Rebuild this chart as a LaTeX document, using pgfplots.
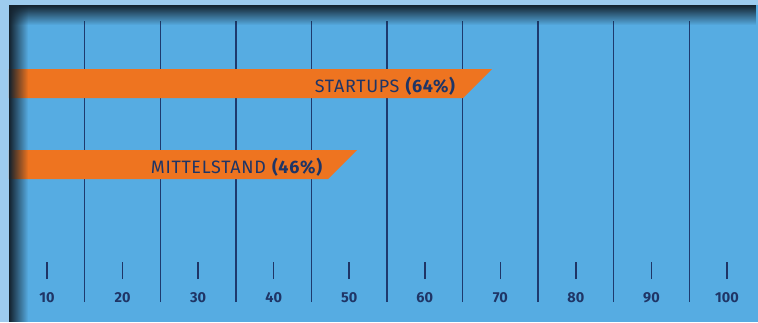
\documentclass[border=0pt]{standalone}
\usepackage{pgfplots}
\pgfplotsset{compat=1.18}
\usepackage{fontspec}
\setmainfont{Fira Sans}
\newfontfamily\spaced[LetterSpace=4]{Fira Sans}
\usetikzlibrary{fadings}
\definecolor{bg}{HTML}{56ACE2}
\definecolor{outer}{HTML}{9DCBEE}
\definecolor{navy}{HTML}{1F3566}
\definecolor{gridc}{HTML}{1E3A6E}
\definecolor{orng}{HTML}{EE7420}
\definecolor{shadowc}{HTML}{14222E}
\tikzfading[name=fadetop, top color=transparent!0, middle color=transparent!65, bottom color=transparent!100]
\tikzfading[name=fadeleft, left color=transparent!0, right color=transparent!100]
\begin{document}
\begin{tikzpicture}
\fill[outer] (0,0) rectangle (758bp,322bp);
\fill[bg] (9bp,0) rectangle (758bp,317bp);
\begin{axis}[
  at={(0,0)}, anchor=south west,
  width=758bp, height=322bp, scale only axis,
  xmin=3.7801, xmax=104.1032, ymin=0, ymax=322,
  axis line style={draw=none},
  major tick length=0pt,
  ytick=\empty,
  xtick={10,20,30,40,50,60,70,80,90,100},
  xticklabel style={anchor=base, yshift=20bp, text=navy, font=\fontsize{14.5}{15}\selectfont\bfseries},
  /pgf/number format/assume math mode=true,
  clip=false,
]
\pgfplotsinvokeforeach{15,25,35,45,55,65,75,85,95}{
  \addplot[gridc, line width=1.3bp] coordinates {(#1,20) (#1,301)};
}
\pgfplotsinvokeforeach{10,20,30,40,50,60,70,80,90,100}{
  \addplot[navy, line width=1.6bp] coordinates {(#1,43) (#1,60)};
}
% STARTUPS bar
\addplot[fill=orng, draw=none] coordinates {(4.97,253) (68.90,253) (65.06,224) (4.97,224)} -- cycle;
% MITTELSTAND bar
\addplot[fill=orng, draw=none] coordinates {(4.97,172) (51.03,172) (47.19,143) (4.97,143)} -- cycle;
\node[anchor=base east, inner sep=0pt, text=navy, font=\spaced\fontsize{18}{18}\selectfont] at (axis cs:64.13,230) {STARTUPS \textbf{(64\%)}};
\node[anchor=base east, inner sep=0pt, text=navy, font=\spaced\fontsize{18}{18}\selectfont] at (axis cs:46.53,149) {MITTELSTAND \textbf{(46\%)}};
\end{axis}
\fill[shadowc, path fading=fadetop] (9bp,297bp) rectangle (758bp,317bp);
\fill[shadowc, path fading=fadeleft] (9bp,0) rectangle (28bp,317bp);
\end{tikzpicture}
\end{document}
